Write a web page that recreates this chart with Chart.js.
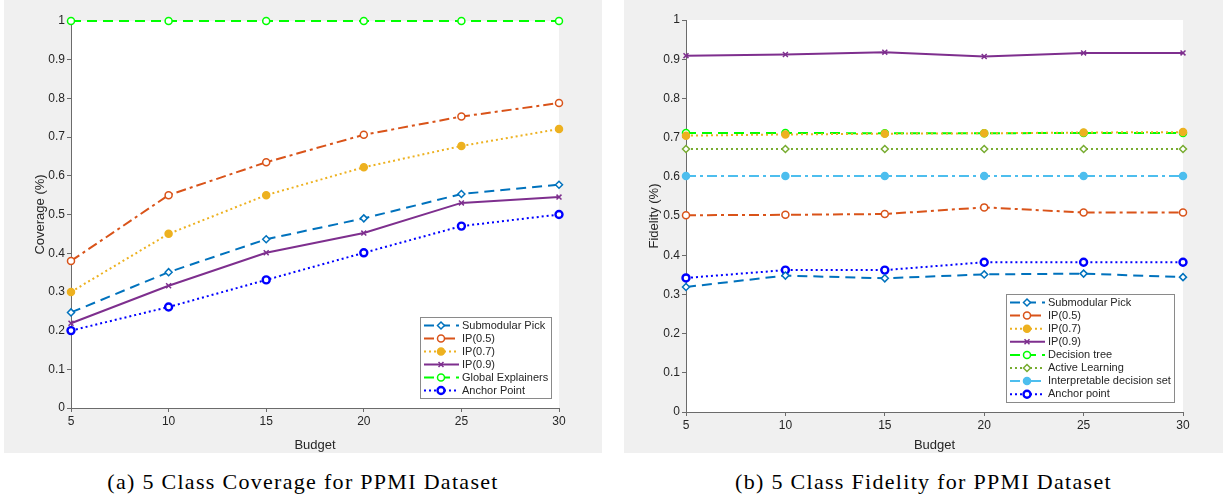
<!DOCTYPE html>
<html>
<head>
<meta charset="utf-8">
<script src="https://cdn.jsdelivr.net/npm/chart.js@4.4.1/dist/chart.umd.min.js"></script>
<style>
    body { margin: 0; background: #fff; width: 1223px; height: 498px; position: relative; overflow: hidden; }
    canvas { position: absolute; top: 0; }
    #coverage { left: 4px; }
    #fidelity { left: 624px; }
    .caption { position: absolute; top: 469px; line-height: 26px; font-family: 'Liberation Serif', serif; font-size: 22px; letter-spacing: 1.3px; color: #000; text-align: center; white-space: nowrap; }
</style>
</head>
<body>
<canvas id="coverage" width="598" height="453"></canvas>
<canvas id="fidelity" width="599" height="453"></canvas>
<div class="caption" style="left:4px;width:598px">(a) 5 Class Coverage for PPMI Dataset</div>
<div class="caption" style="left:624px;width:599px">(b) 5 Class Fidelity for PPMI Dataset</div>
<script>
// budgets on the x axis
const budgets = [5, 10, 15, 20, 25, 30];
const yTicks = [0, 0.1, 0.2, 0.3, 0.4, 0.5, 0.6, 0.7, 0.8, 0.9, 1];

// (a) coverage
const covSubmodular = [0.247, 0.351, 0.436, 0.490, 0.553, 0.577];
const covIP05 = [0.380, 0.550, 0.635, 0.706, 0.753, 0.788];
const covIP07 = [0.300, 0.450, 0.550, 0.622, 0.677, 0.721];
const covIP09 = [0.219, 0.316, 0.401, 0.452, 0.530, 0.545];
const covGlobal = [1, 1, 1, 1, 1, 1];
const covAnchor = [0.200, 0.261, 0.331, 0.401, 0.470, 0.500];

// (b) fidelity
const fidSubmodular = [0.319, 0.348, 0.341, 0.351, 0.353, 0.344];
const fidIP05 = [0.502, 0.503, 0.505, 0.522, 0.509, 0.509];
const fidIP07 = [0.705, 0.708, 0.710, 0.711, 0.713, 0.714];
const fidIP09 = [0.909, 0.912, 0.918, 0.907, 0.916, 0.916];
const fidTree = [0.712, 0.712, 0.711, 0.711, 0.712, 0.712];
const fidActive = [0.671, 0.671, 0.671, 0.671, 0.671, 0.671];
const fidDecisionSet = [0.602, 0.602, 0.602, 0.602, 0.602, 0.602];
const fidAnchor = [0.342, 0.362, 0.362, 0.382, 0.382, 0.382];

const FONT = "'Liberation Sans', Arial, sans-serif";
const AXIS = '#6b6b6b';

// MATLAB-like line styles
const styles = {
    submodular: { color: '#0072BD', dash: [10, 6], marker: 'rectRot', fill: '#fff', r: 3.5 },
    ip05: { color: '#D95319', dash: [10, 4, 3, 4], marker: 'circle', fill: '#fff', r: 3.5 },
    ip07: { color: '#EDB120', dash: [2, 3], marker: 'circle', fill: '#EDB120', r: 3.5 },
    ip09: { color: '#7E2F8E', dash: [], marker: 'crossRot', fill: '#7E2F8E', r: 3.5 },
    green: { color: '#00FF00', dash: [10, 6], marker: 'circle', fill: '#fff', r: 3.5 },
    active: { color: '#77AC30', dash: [2, 3], marker: 'rectRot', fill: '#fff', r: 3.5 },
    decisionSet: { color: '#4DBEEE', dash: [10, 4, 3, 4], marker: 'circle', fill: '#4DBEEE', r: 3.5 },
    anchor: { color: '#0000FF', dash: [2, 3], marker: 'circle', fill: '#fff', r: 3.5, bw: 2.4 }
};

function makeSet(label, values, st) {
    return {
        label: label,
        data: values.map((v, i) => ({ x: budgets[i], y: v })),
        borderColor: st.color,
        borderWidth: 2,
        borderDash: st.dash,
        pointStyle: st.marker,
        pointRadius: st.r,
        pointBorderWidth: st.bw || 1.5,
        pointBorderColor: st.color,
        pointBackgroundColor: st.fill,
        tension: 0,
        clip: false
    };
}

// gray figure background with a white axes box
const panelBg = {
    id: 'panelBg',
    beforeDraw(chart) {
        const { ctx, chartArea: a, width, height } = chart;
        ctx.save();
        ctx.fillStyle = '#f0f0f0';
        ctx.fillRect(0, 0, width, height);
        ctx.fillStyle = '#fff';
        ctx.fillRect(a.left, a.top, a.right - a.left, a.bottom - a.top);
        ctx.restore();
    }
};

// boxed legend in the lower right of the axes
const boxLegend = {
    id: 'boxLegend',
    afterDatasetsDraw(chart, args, opts) {
        const ctx = chart.ctx, area = chart.chartArea;
        const sets = chart.data.datasets;
        ctx.save();
        ctx.font = '11px ' + FONT;
        const tw = Math.max(...sets.map(d => ctx.measureText(d.label).width));
        const w = Math.round(42 + tw + 3);
        const h = Math.round(sets.length * opts.row + 3);
        const x0 = Math.round(area.right - opts.right - w);
        const y0 = Math.round(area.bottom - opts.bottom - h);
        ctx.fillStyle = '#fff';
        ctx.fillRect(x0, y0, w, h);
        ctx.strokeStyle = '#8a8a8a';
        ctx.lineWidth = 1;
        ctx.strokeRect(x0 + 0.5, y0 + 0.5, w, h);
        sets.forEach((d, i) => {
            const y = y0 + 8.5 + i * opts.row;
            ctx.strokeStyle = d.borderColor;
            ctx.lineWidth = d.borderWidth;
            ctx.setLineDash(d.borderDash);
            ctx.beginPath();
            ctx.moveTo(x0 + 4, y);
            ctx.lineTo(x0 + 39, y);
            ctx.stroke();
            ctx.setLineDash([]);
            ctx.fillStyle = d.pointBackgroundColor;
            ctx.strokeStyle = d.pointBorderColor;
            ctx.lineWidth = d.pointBorderWidth;
            Chart.helpers.drawPoint(ctx, { pointStyle: d.pointStyle, radius: d.pointRadius, borderWidth: d.pointBorderWidth, rotation: 0 }, x0 + 21, y);
            ctx.fillStyle = '#262626';
            ctx.textBaseline = 'middle';
            ctx.textAlign = 'left';
            ctx.fillText(d.label, x0 + 42, y);
        });
        ctx.restore();
    }
};

function makeChart(id, datasets, yTitle, lay) {
    return new Chart(document.getElementById(id), {
        type: 'line',
        data: { datasets: datasets },
        plugins: [panelBg, boxLegend],
        options: {
            responsive: false,
            animation: false,
            layout: { padding: { top: lay.top, right: lay.right, left: 0, bottom: 0 } },
            plugins: {
                legend: { display: false },
                tooltip: { enabled: false },
                boxLegend: { row: lay.row, right: lay.legRight, bottom: 10 }
            },
            scales: {
                x: {
                    type: 'linear',
                    min: 5,
                    max: 30,
                    afterFit: s => { s.height = lay.xH; },
                    afterBuildTicks: s => { s.ticks = budgets.map(v => ({ value: v })); },
                    ticks: { color: '#262626', font: { family: FONT, size: 12 }, padding: 2 },
                    grid: { drawOnChartArea: false, drawTicks: true, tickLength: 4, color: AXIS },
                    border: { display: true, color: AXIS, width: 1 },
                    title: { display: true, text: 'Budget', color: '#262626', font: { family: FONT, size: 13 }, padding: { top: lay.xTitlePad, bottom: 0 } }
                },
                y: {
                    min: 0,
                    max: 1,
                    afterFit: s => { s.width = lay.yW; },
                    afterBuildTicks: s => { s.ticks = yTicks.map(v => ({ value: v })); },
                    ticks: { color: '#262626', font: { family: FONT, size: 12 }, padding: 2, callback: v => String(+v.toFixed(1)) },
                    grid: { drawOnChartArea: false, drawTicks: true, tickLength: 4, color: AXIS },
                    border: { display: true, color: AXIS, width: 1 },
                    title: { display: true, text: yTitle, color: '#262626', font: { family: FONT, size: 13 }, padding: { top: lay.yTitlePad, bottom: 0 } }
                }
            }
        }
    });
}

makeChart('coverage', [
    makeSet('Submodular Pick', covSubmodular, styles.submodular),
    makeSet('IP(0.5)', covIP05, styles.ip05),
    makeSet('IP(0.7)', covIP07, styles.ip07),
    makeSet('IP(0.9)', covIP09, styles.ip09),
    makeSet('Global Explainers', covGlobal, styles.green),
    makeSet('Anchor Point', covAnchor, styles.anchor)
], 'Coverage (%)', { top: 21, right: 43, xH: 45, yW: 67, xTitlePad: 10, yTitlePad: 29, row: 13, legRight: 8 });

makeChart('fidelity', [
    makeSet('Submodular Pick', fidSubmodular, styles.submodular),
    makeSet('IP(0.5)', fidIP05, styles.ip05),
    makeSet('IP(0.7)', fidIP07, styles.ip07),
    makeSet('IP(0.9)', fidIP09, styles.ip09),
    makeSet('Decision tree', fidTree, styles.green),
    makeSet('Active Learning', fidActive, styles.active),
    makeSet('Interpretable decision set', fidDecisionSet, styles.decisionSet),
    makeSet('Anchor point', fidAnchor, styles.anchor)
], 'Fidelity (%)', { top: 20, right: 40, xH: 41, yW: 62, xTitlePad: 6, yTitlePad: 23, row: 13.1, legRight: 9 });
</script>
</body>
</html>
